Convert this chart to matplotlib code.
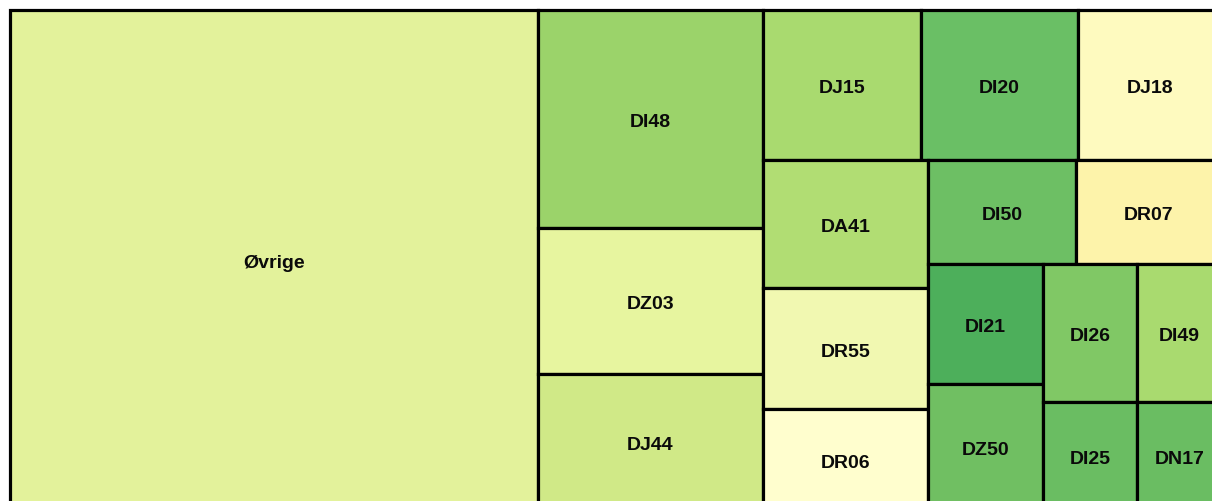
# Treemap over diagnoses (cropped view)
import matplotlib.pyplot as plt
from matplotlib.patches import Rectangle

# =============================
# Data
# =============================

codes = ["Øvrige", "DI48", "DZ03", "DJ44", "DJ15", "DI20", "DJ18",
         "DA41", "DR55", "DR06", "DI50", "DR07", "DI21", "DZ50",
         "DI26", "DI25", "DI49", "DN17"]
counts = [2640, 490, 329, 306, 237, 236, 216,
          211, 200, 167, 154, 152, 138, 145,
          130, 102, 117, 92]

# fill colours per cell (same order as codes)
cell_colors = ["#e3f29b", "#9bd36a", "#e7f59f", "#d0e987", "#a9da6f", "#6abf65", "#fefabf",
               "#b1dd73", "#f1f8b1", "#fffece", "#6dbf64", "#fdf3aa", "#4daf5b", "#70bf62",
               "#80c865", "#6abd62", "#a9da6f", "#6abd62"]

# nesting of the treemap: "h" = side by side, "v" = stacked
tree = ("h", [
    "Øvrige",
    ("v", ["DI48", "DZ03", "DJ44"]),
    ("v", [
        ("h", ["DJ15", "DI20", "DJ18"]),
        ("h", [
            ("v", ["DA41", "DR55", "DR06"]),
            ("v", [
                ("h", ["DI50", "DR07"]),
                ("h", [
                    ("v", ["DI21", "DZ50"]),
                    ("v", ["DI26", "DI25"]),
                    ("v", ["DI49", "DN17"]),
                ]),
            ]),
        ]),
    ]),
])

value = dict(zip(codes, counts))
color = dict(zip(codes, cell_colors))


def node_total(node):
    if isinstance(node, str):
        return value[node]
    return sum(node_total(c) for c in node[1])


def layout(node, x, y, w, h, out):
    if isinstance(node, str):
        out[node] = (x, y, w, h)
        return
    direction, children = node
    total = node_total(node)
    pos = 0.0
    for child in children:
        frac = node_total(child) / total
        if direction == "h":
            layout(child, x + pos * w, y, w * frac, h, out)
        else:
            layout(child, x, y + pos * h, w, h * frac, out)
        pos += frac


rects = {}
layout(tree, 0.0, 0.0, 1.0, 1.0, rects)

# =============================
# Plot
# =============================

fig = plt.figure(figsize=(12.12, 5.02), dpi=100)
# the treemap runs a little past the right and bottom edge of the picture
ax = fig.add_axes([10 / 1212, -9 / 502, 1212 / 1212, 500 / 502])
ax.set_xlim(0, 1)
ax.set_ylim(1, 0)
ax.axis("off")

for code in codes:
    x, y, w, h = rects[code]
    ax.add_patch(Rectangle((x, y), w, h, facecolor=color[code],
                           edgecolor="black", linewidth=2.3, clip_on=False))
    ax.annotate(code, (x + w / 2, y + h / 2), xytext=(0, -2),
                textcoords="offset points", ha="center", va="center",
                fontsize=14, fontweight="bold", family="Liberation Sans",
                color="#0a0a0a")

fig.savefig("out.png", dpi=100)
